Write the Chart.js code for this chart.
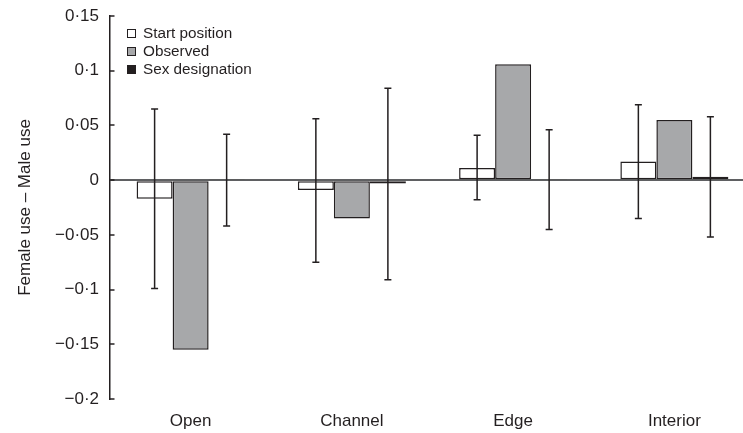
<!DOCTYPE html>
<html>
<head>
<meta charset="utf-8">
<script src="https://cdn.jsdelivr.net/npm/chart.js@4/dist/chart.umd.min.js"></script>
<style>
  html, body { margin: 0; padding: 0; background: #fff; overflow: hidden; }
  #wrap { position: relative; width: 743px; height: 433px; overflow: hidden; }
  #c { position: absolute; left: 0; top: 0; }
  #legend { position: absolute; left: 127px; top: 24px; font-family: "Liberation Sans", Arial, sans-serif; font-size: 15.3px; color: #231f20; }
  #legend .row { height: 18px; line-height: 18px; display: flex; align-items: center; white-space: nowrap; }
  #legend .sw { width: 7px; height: 7px; border: 1px solid #231f20; margin-right: 7px; box-sizing: content-box; }
</style>
</head>
<body>
<div id="wrap">
  <canvas id="c" width="760" height="433"></canvas>
  <div id="legend"></div>
</div>
<script>
// Habitat categories
const categories = ['Open', 'Channel', 'Edge', 'Interior'];

// Female use minus male use, per series
const startPosition = [-0.017, -0.009, 0.011, 0.017];
const observed = [-0.155, -0.035, 0.106, 0.055];
const sexDesignation = [0.0005, -0.003, 0.001, 0.003];

// Error bar limits (upper, lower)
const startHigh = [0.065, 0.056, 0.041, 0.069];
const startLow = [-0.099, -0.075, -0.018, -0.035];
const sexHigh = [0.042, 0.084, 0.046, 0.058];
const sexLow = [-0.042, -0.091, -0.045, -0.052];

// Y axis ticks and their printed labels
const yTicks = [0.15, 0.1, 0.05, 0, -0.05, -0.1, -0.15, -0.2];
const yTickLabels = ['0·15', '0·1', '0·05', '0', '\u22120·05', '\u22120·1', '\u22120·15', '\u22120·2'];

const INK = '#231f20';
const FONT = '"Liberation Sans", Arial, sans-serif';

const errorLimits = {
  0: { high: startHigh, low: startLow },
  2: { high: sexHigh, low: sexLow }
};

// Vertical error bars with caps, centred on each bar
const errorBars = {
  id: 'errorBars',
  afterDatasetsDraw(chart) {
    const ctx = chart.ctx;
    const y = chart.scales.y;
    ctx.save();
    ctx.strokeStyle = INK;
    ctx.lineWidth = 1.5;
    Object.keys(errorLimits).forEach(k => {
      const idx = Number(k);
      const lim = errorLimits[k];
      chart.getDatasetMeta(idx).data.forEach((bar, j) => {
        const x = bar.x;
        const yh = y.getPixelForValue(lim.high[j]);
        const yl = y.getPixelForValue(lim.low[j]);
        ctx.beginPath();
        ctx.moveTo(x, yh); ctx.lineTo(x, yl);
        ctx.moveTo(x - 3.5, yh); ctx.lineTo(x + 3.5, yh);
        ctx.moveTo(x - 3.5, yl); ctx.lineTo(x + 3.5, yl);
        ctx.stroke();
      });
    });
    ctx.restore();
  }
};

// Short tick marks pointing into the plot from the y axis
const innerTicks = {
  id: 'innerTicks',
  afterDraw(chart) {
    const ctx = chart.ctx;
    const y = chart.scales.y;
    const x0 = y.right;
    ctx.save();
    ctx.strokeStyle = INK;
    ctx.lineWidth = 1.5;
    y.ticks.forEach(t => {
      const py = Math.round(y.getPixelForValue(t.value));
      ctx.beginPath();
      ctx.moveTo(x0, py);
      ctx.lineTo(x0 + 4.5, py);
      ctx.stroke();
    });
    ctx.restore();
  }
};

const chart = new Chart(document.getElementById('c'), {
  type: 'bar',
  data: {
    labels: categories,
    datasets: [
      { label: 'Start position', data: startPosition, backgroundColor: '#ffffff', borderColor: INK },
      { label: 'Observed', data: observed, backgroundColor: '#a7a8aa', borderColor: INK },
      { label: 'Sex designation', data: sexDesignation, backgroundColor: INK, borderColor: INK }
    ]
  },
  options: {
    responsive: false,
    animation: false,
    devicePixelRatio: 1,
    layout: { padding: { top: 16, right: 5, left: 0, bottom: 0 } },
    datasets: {
      bar: {
        borderWidth: 1.5,
        borderSkipped: false,
        categoryPercentage: 0.67,
        barPercentage: 1.0
      }
    },
    plugins: {
      legend: { display: false },
      tooltip: { enabled: false }
    },
    scales: {
      x: {
        grid: { display: false },
        border: { display: false },
        ticks: { color: INK, font: { family: FONT, size: 17 }, padding: 4, maxRotation: 0 },
        afterFit(s) { s.height = 34; }
      },
      y: {
        min: -0.2,
        max: 0.15,
        afterBuildTicks(s) { s.ticks = yTicks.map(v => ({ value: v })); },
        ticks: {
          color: INK,
          font: { family: FONT, size: 17 },
          padding: 11,
          callback(value) {
            const i = yTicks.findIndex(v => Math.abs(v - value) < 1e-9);
            return i >= 0 ? yTickLabels[i] : '';
          }
        },
        grid: {
          drawTicks: false,
          lineWidth: 2,
          color: ctx => (ctx.tick && Math.abs(ctx.tick.value) < 1e-9) ? '#5f6062' : 'rgba(0,0,0,0)'
        },
        border: { display: true, color: INK, width: 1.5 },
        title: {
          display: true,
          text: 'Female use \u2013 Male use',
          color: INK,
          font: { family: FONT, size: 17 },
          padding: { top: 15, bottom: 0 }
        },
        afterFit(s) { s.width = 110; s.paddingTop = 0; s.paddingBottom = 0; }
      }
    }
  },
  plugins: [errorBars, innerTicks]
});

// Legend built from the chart's datasets
const legendEl = document.getElementById('legend');
chart.data.datasets.forEach(ds => {
  const row = document.createElement('div');
  row.className = 'row';
  const sw = document.createElement('span');
  sw.className = 'sw';
  sw.style.background = ds.backgroundColor;
  sw.style.borderColor = ds.borderColor;
  const txt = document.createElement('span');
  txt.textContent = ds.label;
  row.appendChild(sw);
  row.appendChild(txt);
  legendEl.appendChild(row);
});
</script>
</body>
</html>
